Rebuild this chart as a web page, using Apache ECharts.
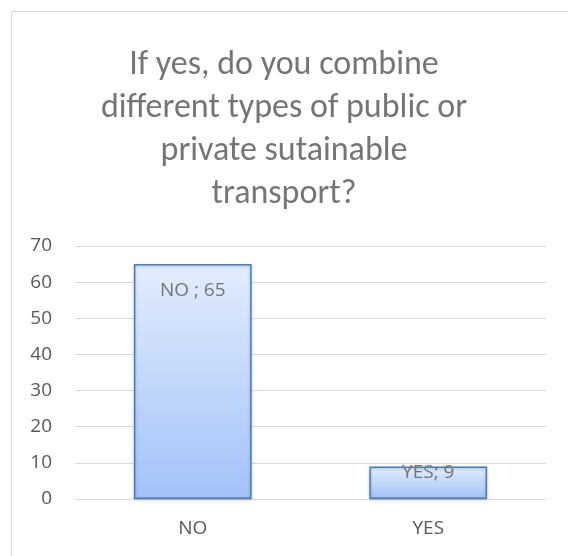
<!DOCTYPE html>
<html>
<head>
<meta charset="utf-8">
<script src="https://cdn.jsdelivr.net/npm/echarts@6/dist/echarts.min.js"></script>
<style>
  html, body { margin: 0; padding: 0; background: #fff; }
  #chart { width: 568px; height: 556px; }
</style>
</head>
<body>
<div id="chart"></div>
<script>
// Survey answers: combining public/private sustainable transport
const categories = ['NO', 'YES'];
const counts = [65, 9];
const yTicks = { min: 0, max: 70, interval: 10 };
const titleText = 'If yes, do you combine\ndifferent types of public or\nprivate sutainable\ntransport?';

const titleFont = 'Carlito, Lato, sans-serif';
const bodyFont = '"Open Sans", "Noto Sans", sans-serif';
const textGray = '#595959';

const chart = echarts.init(document.getElementById('chart'), null, { renderer: 'canvas' });

const barData = counts.map((v, i) => ({
  value: v,
  label: i === 0
    ? { position: 'insideTop', distance: 17 }
    : { position: 'insideTop', distance: -3 }
}));

chart.setOption({
  animation: false,
  backgroundColor: '#fff',
  graphic: [{
    type: 'rect',
    shape: { x: 11.5, y: 11.5, width: 600, height: 600 },
    style: { fill: 'none', stroke: '#d9d9d9', lineWidth: 1 },
    silent: true,
    z: -1
  }],
  title: {
    text: titleText,
    left: 'center',
    top: 39,
    textStyle: {
      fontFamily: titleFont,
      fontSize: 34,
      fontWeight: 'normal',
      color: '#757575',
      lineHeight: 43
    }
  },
  grid: { left: 75, right: 22, top: 246, bottom: 57 },
  xAxis: {
    type: 'category',
    data: categories,
    axisLine: { show: true, lineStyle: { color: '#d9d9d9', width: 1 } },
    axisTick: { show: false },
    axisLabel: { color: textGray, fontFamily: bodyFont, fontSize: 19, margin: 20 }
  },
  yAxis: {
    type: 'value',
    min: yTicks.min,
    max: yTicks.max,
    interval: yTicks.interval,
    axisLine: { show: false },
    axisTick: { show: false },
    splitLine: { lineStyle: { color: '#d9d9d9', width: 1 } },
    axisLabel: { color: textGray, fontFamily: bodyFont, fontSize: 19, margin: 23 }
  },
  series: [{
    type: 'bar',
    data: barData,
    barWidth: '50%',
    itemStyle: {
      color: new echarts.graphic.LinearGradient(0, 0, 0, 1, [
        { offset: 0, color: '#e2edfd' },
        { offset: 1, color: '#a3c2f9' }
      ]),
      borderColor: '#4a7ebb',
      borderWidth: 1.5,
      shadowColor: 'rgba(0,0,0,0.25)',
      shadowBlur: 3,
      shadowOffsetY: 1
    },
    label: {
      show: true,
      color: '#757575',
      fontFamily: bodyFont,
      fontSize: 19,
      formatter: p => p.name === 'NO' ? `${p.name} ; ${p.value}` : `${p.name}; ${p.value}`
    }
  }]
});
</script>
</body>
</html>
